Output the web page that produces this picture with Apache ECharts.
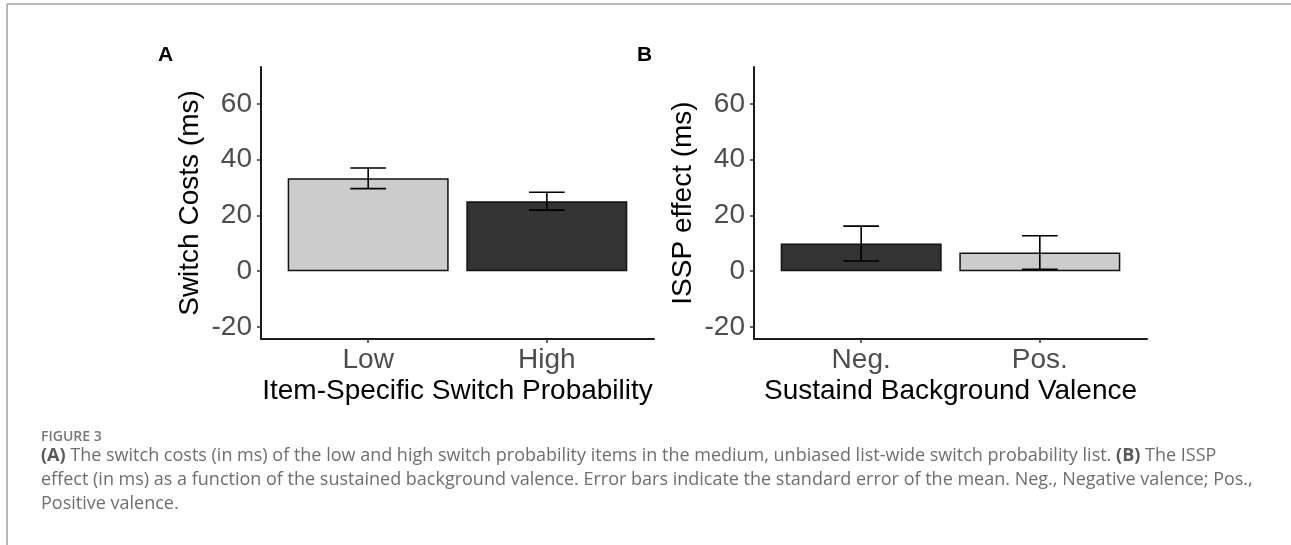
<!DOCTYPE html>
<html>
<head>
<meta charset="utf-8">
<script src="https://cdn.jsdelivr.net/npm/echarts@6/dist/echarts.min.js"></script>
<style>
  html, body { margin: 0; padding: 0; background: #fff; }
  #fig { width: 1291px; height: 545px; }
</style>
</head>
<body>
<div id="fig"></div>
<script>
// panel A: switch costs by item-specific switch probability
var categoriesA = ['Low', 'High'];
var switchCosts = [33.3, 25.1];
var switchCostsSE = [3.7, 3.2];

// panel B: ISSP effect by sustained background valence
var categoriesB = ['Neg.', 'Pos.'];
var isspEffect = [9.9, 6.7];
var isspEffectSE = [6.25, 6.0];

var yTicks = [-20, 0, 20, 40, 60];

var fillA = ['#cccccc', '#333333'];
var fillB = ['#333333', '#cccccc'];

var FONT = "'Liberation Sans', Arial, sans-serif";
var CAP_FONT = "'Open Sans', 'Noto Sans', sans-serif";

function barData (vals, fills) {
    return vals.map(function (v, i) {
        return { value: [i + 1, v], itemStyle: { color: fills[i] } };
    });
}

function errData (vals, se) {
    return vals.map(function (v, i) {
        return [i + 1, v - se[i], v + se[i]];
    });
}

function renderErr (params, api) {
    var x = api.value(0);
    var lo = api.value(1);
    var hi = api.value(2);
    var top = api.coord([x, hi]);
    var bot = api.coord([x, lo]);
    var l = api.coord([x - 0.1, hi])[0];
    var r = api.coord([x + 0.1, hi])[0];
    var st = { stroke: '#000', lineWidth: 1.6 };
    return {
        type: 'group',
        children: [
            { type: 'line', shape: { x1: top[0], y1: top[1], x2: bot[0], y2: bot[1] }, style: st },
            { type: 'line', shape: { x1: l, y1: top[1], x2: r, y2: top[1] }, style: st },
            { type: 'line', shape: { x1: l, y1: bot[1], x2: r, y2: bot[1] }, style: st }
        ]
    };
}

function xAxisFor (idx, cats, title) {
    return {
        type: 'value',
        gridIndex: idx,
        min: 0.4,
        max: 2.6,
        name: title,
        nameLocation: 'middle',
        nameGap: 52,
        nameTextStyle: { fontFamily: FONT, fontSize: 28, color: '#000', verticalAlign: 'middle' },
        axisLine: { onZero: false, lineStyle: { color: '#1a1a1a', width: 2 } },
        axisTick: { show: true, length: 4, customValues: [1, 2], lineStyle: { color: '#333', width: 1.5 } },
        axisLabel: {
            customValues: [1, 2],
            margin: 7,
            fontFamily: FONT,
            fontSize: 28,
            color: '#4d4d4d',
            formatter: function (v) { return cats[Math.round(v) - 1]; }
        },
        splitLine: { show: false }
    };
}

function yAxisFor (idx, title) {
    return {
        type: 'value',
        gridIndex: idx,
        min: -24.3,
        max: 73.2,
        name: title,
        nameLocation: 'middle',
        nameRotate: 90,
        nameGap: 71,
        nameTextStyle: { fontFamily: FONT, fontSize: 28, color: '#000', verticalAlign: 'middle' },
        axisLine: { show: true, lineStyle: { color: '#1a1a1a', width: 2 } },
        axisTick: { show: true, length: 4, customValues: yTicks, lineStyle: { color: '#333', width: 1.5 } },
        axisLabel: {
            customValues: yTicks,
            margin: 9,
            fontFamily: FONT,
            fontSize: 28,
            color: '#4d4d4d'
        },
        splitLine: { show: false }
    };
}

var chart = echarts.init(document.getElementById('fig'), null, { renderer: 'canvas' });

var capLine1 = '{b|(A)} The switch costs (in ms) of the low and high switch probability items in the medium, unbiased list-wide switch probability list. {b|(B)} The ISSP';
var capLine2 = 'effect (in ms) as a function of the sustained background valence. Error bars indicate the standard error of the mean. Neg., Negative valence; Pos.,';
var capLine3 = 'Positive valence.';

function capText (txt, y) {
    return {
        type: 'text',
        left: 41,
        top: y,
        style: {
            text: txt,
            fontFamily: CAP_FONT,
            fontSize: 18,
            fill: '#6e6e6e',
            rich: { b: { fontFamily: CAP_FONT, fontSize: 18, fontWeight: 'bold', fill: '#595959' } }
        }
    };
}

var option = {
    animation: false,
    backgroundColor: '#fff',
    grid: [
        { left: 261, top: 67, width: 393, height: 272 },
        { left: 754, top: 67, width: 393, height: 272 }
    ],
    xAxis: [
        xAxisFor(0, categoriesA, 'Item-Specific Switch Probability'),
        xAxisFor(1, categoriesB, 'Sustaind Background Valence')
    ],
    yAxis: [
        yAxisFor(0, 'Switch Costs (ms)'),
        yAxisFor(1, 'ISSP effect (ms)')
    ],
    series: [
        {
            type: 'bar',
            xAxisIndex: 0,
            yAxisIndex: 0,
            barWidth: 161,
            data: barData(switchCosts, fillA),
            itemStyle: { borderColor: '#111', borderWidth: 1.5 }
        },
        {
            type: 'custom',
            xAxisIndex: 0,
            yAxisIndex: 0,
            z: 5,
            renderItem: renderErr,
            data: errData(switchCosts, switchCostsSE)
        },
        {
            type: 'bar',
            xAxisIndex: 1,
            yAxisIndex: 1,
            barWidth: 161,
            data: barData(isspEffect, fillB),
            itemStyle: { borderColor: '#111', borderWidth: 1.5 }
        },
        {
            type: 'custom',
            xAxisIndex: 1,
            yAxisIndex: 1,
            z: 5,
            renderItem: renderErr,
            data: errData(isspEffect, isspEffectSE)
        }
    ],
    graphic: [
        // figure frame
        { type: 'line', shape: { x1: 7, y1: 4, x2: 1291, y2: 4 }, style: { stroke: '#a0a0a0', lineWidth: 1.5 } },
        { type: 'line', shape: { x1: 7, y1: 4, x2: 7, y2: 545 }, style: { stroke: '#a0a0a0', lineWidth: 1.5 } },
        // panel letters
        { type: 'text', left: 158, top: 45, style: { text: 'A', fontFamily: FONT, fontSize: 21, fontWeight: 'bold', fill: '#000' } },
        { type: 'text', left: 637, top: 45, style: { text: 'B', fontFamily: FONT, fontSize: 21, fontWeight: 'bold', fill: '#000' } },
        // caption
        { type: 'text', left: 41, top: 430, style: { text: 'FIGURE 3', fontFamily: CAP_FONT, fontSize: 14, fontWeight: 600, fill: '#777' } },
        capText(capLine1, 447),
        capText(capLine2, 471),
        capText(capLine3, 495)
    ]
};

chart.setOption(option);
</script>
</body>
</html>
